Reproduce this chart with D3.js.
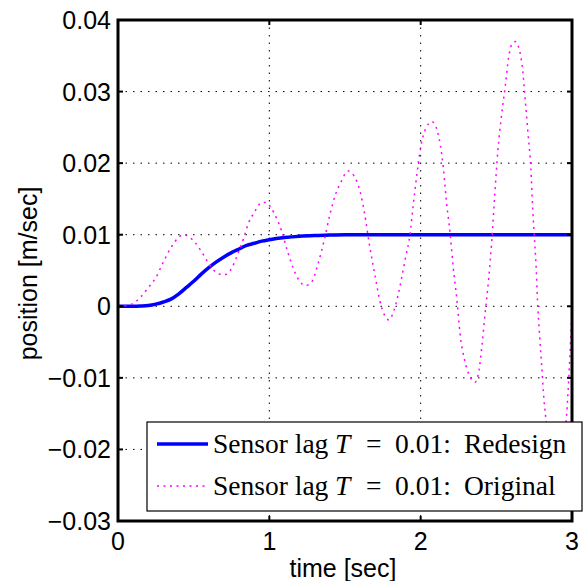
<!DOCTYPE html>
<html>
<head>
<meta charset="utf-8">
<script src="https://cdn.jsdelivr.net/npm/d3@7"></script>
<style>
  body { margin: 0; background: #fff; }
  svg { display: block; }
</style>
</head>
<body>
<svg id="chart"></svg>
<script>
// values
const redesignTime = [0, 0.1, 0.15, 0.2, 0.25, 0.3, 0.35, 0.4, 0.45, 0.5, 0.55, 0.6, 0.65, 0.7, 0.75,
    0.8, 0.85, 0.9, 0.95, 1.0, 1.1, 1.2, 1.3, 1.4, 1.5, 2.0, 2.5, 3.0];
const redesignPos = [0, 0, 0.00003, 0.0001, 0.0003, 0.0006, 0.001, 0.0017, 0.0026, 0.0035, 0.0045,
    0.0054, 0.0062, 0.0069, 0.0075, 0.008, 0.0085, 0.0088, 0.0091, 0.0093, 0.0096, 0.0098, 0.0099,
    0.00995, 0.01, 0.01, 0.01, 0.01];

const originalTime = [0, 0.05, 0.1, 0.15, 0.2, 0.25, 0.3, 0.35, 0.4, 0.43, 0.47, 0.51, 0.55, 0.59, 0.63,
    0.67, 0.7, 0.73, 0.76, 0.8, 0.83, 0.86, 0.9, 0.95, 0.98, 1.01, 1.05, 1.08, 1.12, 1.16, 1.2, 1.24,
    1.28, 1.32, 1.36, 1.4, 1.44, 1.47, 1.52, 1.56, 1.6, 1.63, 1.66, 1.7, 1.73, 1.76, 1.79, 1.82, 1.85,
    1.87, 1.9, 1.93, 1.95, 1.975, 2.0, 2.04, 2.075, 2.11, 2.15, 2.17, 2.195, 2.215, 2.24, 2.26, 2.29,
    2.325, 2.36, 2.385, 2.405, 2.425, 2.45, 2.47, 2.49, 2.51, 2.535, 2.56, 2.58, 2.6, 2.625, 2.655,
    2.675, 2.69, 2.71, 2.728, 2.74, 2.75, 2.763, 2.772, 2.785, 2.8, 2.815, 2.83, 2.85, 2.87, 2.89,
    2.91, 2.93, 2.95, 2.965, 2.98, 3.0];
const originalPos = [0, 0.0001, 0.0004, 0.0013, 0.0026, 0.004, 0.0062, 0.0082, 0.0096, 0.01, 0.0097,
    0.0089, 0.0077, 0.0063, 0.0051, 0.0045, 0.0044, 0.0047, 0.0057, 0.0078, 0.0095, 0.0115, 0.0131,
    0.0145, 0.0145, 0.0138, 0.0122, 0.0106, 0.0077, 0.0052, 0.0035, 0.0029, 0.0034, 0.0058, 0.009,
    0.0128, 0.0158, 0.0172, 0.0189, 0.0182, 0.016, 0.0129, 0.0088, 0.0041, 0.0008, -0.0012, -0.0019,
    -0.0008, 0.0015, 0.0035, 0.0068, 0.0101, 0.014, 0.0184, 0.0222, 0.0251, 0.0258, 0.0245, 0.0193,
    0.0147, 0.0101, 0.0055, 0.0008, -0.0038, -0.0075, -0.0098, -0.0106, -0.009, -0.0055, -0.0012,
    0.004, 0.0092, 0.0157, 0.0217, 0.0268, 0.0309, 0.0346, 0.0365, 0.037, 0.0356, 0.0328, 0.0291,
    0.024, 0.0193, 0.0138, 0.0101, 0.0055, 0.0008, -0.0038, -0.0084, -0.0131, -0.0162, -0.021,
    -0.0255, -0.0278, -0.0272, -0.0235, -0.0188, -0.015, -0.0095, -0.0006];

const xTicks = [0, 1, 2, 3];
const yTicks = [-0.03, -0.02, -0.01, 0, 0.01, 0.02, 0.03, 0.04];
const legendNames = ["Redesign", "Original"];

const width = 584, height = 581;
const margin = { top: 20, right: 12, bottom: 60, left: 118 };

const svg = d3.select("#chart").attr("width", width).attr("height", height);

const x = d3.scaleLinear().domain([0, 3]).range([margin.left, width - margin.right]);
const y = d3.scaleLinear().domain([-0.03, 0.04]).range([height - margin.bottom, margin.top]);
const fmt = d3.format(".2~f");

svg.append("defs").append("clipPath").attr("id", "plotclip")
    .append("rect")
    .attr("x", x(0)).attr("y", y(0.04))
    .attr("width", x(3) - x(0)).attr("height", y(-0.03) - y(0.04));

// dotted grid
const grid = svg.append("g")
    .attr("stroke", "#000").attr("stroke-width", 1).attr("stroke-dasharray", "1.5,6");
grid.selectAll(".gx").data(xTicks.slice(1, -1)).enter().append("line")
    .attr("x1", d => x(d)).attr("x2", d => x(d))
    .attr("y1", y(0.04)).attr("y2", y(-0.03));
grid.selectAll(".gy").data(yTicks.slice(1, -1)).enter().append("line")
    .attr("x1", x(0)).attr("x2", x(3))
    .attr("y1", d => y(d)).attr("y2", d => y(d));

// curves
const redesign = redesignTime.map((t, i) => [t, redesignPos[i]]);
const original = originalTime.map((t, i) => [t, originalPos[i]]);
const line = d3.line().x(d => x(d[0])).y(d => y(d[1])).curve(d3.curveMonotoneX);

const curves = svg.append("g").attr("clip-path", "url(#plotclip)");
curves.append("path").datum(redesign)
    .attr("d", line).attr("fill", "none")
    .attr("stroke", "#0000ff").attr("stroke-width", 3.5);
curves.append("path").datum(original)
    .attr("d", line).attr("fill", "none")
    .attr("stroke", "#ff00ff").attr("stroke-width", 1.5)
    .attr("stroke-dasharray", "2,4.5");

// ticks on all four sides, pointing inward
const ticks = svg.append("g").attr("stroke", "#000").attr("stroke-width", 2);
xTicks.forEach(d => {
    ticks.append("line").attr("x1", x(d)).attr("x2", x(d)).attr("y1", y(-0.03)).attr("y2", y(-0.03) - 5);
    ticks.append("line").attr("x1", x(d)).attr("x2", x(d)).attr("y1", y(0.04)).attr("y2", y(0.04) + 5);
});
yTicks.forEach(d => {
    ticks.append("line").attr("x1", x(0)).attr("x2", x(0) + 5).attr("y1", y(d)).attr("y2", y(d));
    ticks.append("line").attr("x1", x(3)).attr("x2", x(3) - 5).attr("y1", y(d)).attr("y2", y(d));
});

// frame
svg.append("rect")
    .attr("x", x(0)).attr("y", y(0.04))
    .attr("width", x(3) - x(0)).attr("height", y(-0.03) - y(0.04))
    .attr("fill", "none").attr("stroke", "#000").attr("stroke-width", 3);

// tick labels
const labelFont = "'Liberation Sans', Arial, sans-serif";
svg.selectAll(".xl").data(xTicks).enter().append("text")
    .attr("x", d => x(d)).attr("y", height - 31)
    .attr("text-anchor", "middle")
    .attr("font-family", labelFont).attr("font-size", 25)
    .text(d => d);
svg.selectAll(".yl").data(yTicks).enter().append("text")
    .attr("x", x(0) - 7).attr("y", d => y(d) + 9)
    .attr("text-anchor", "end")
    .attr("font-family", labelFont).attr("font-size", 25)
    .text(d => fmt(d));

// axis titles
svg.append("text")
    .attr("x", (x(0) + x(3)) / 2 - 2).attr("y", height - 4)
    .attr("text-anchor", "middle")
    .attr("font-family", labelFont).attr("font-size", 25)
    .text("time [sec]");
svg.append("text")
    .attr("transform", `translate(37,${(y(0.04) + y(-0.03)) / 2 + 3}) rotate(-90)`)
    .attr("text-anchor", "middle")
    .attr("font-family", labelFont).attr("font-size", 25)
    .text("position [m/sec]");

// legend
const lg = svg.append("g").attr("transform", "translate(147,422)");
lg.append("rect").attr("width", 435).attr("height", 89)
    .attr("fill", "#fff").attr("stroke", "#000").attr("stroke-width", 1.2);
const rows = [
    { name: legendNames[0], color: "#0000ff", w: 3.5, dash: null },
    { name: legendNames[1], color: "#ff00ff", w: 1.5, dash: "2,4.5" }
];
rows.forEach((r, i) => {
    const cy = 22 + i * 42;
    lg.append("line").attr("x1", 10).attr("x2", 61).attr("y1", cy).attr("y2", cy)
        .attr("stroke", r.color).attr("stroke-width", r.w)
        .attr("stroke-dasharray", r.dash);
    const t = lg.append("text").attr("y", cy + 9)
        .attr("font-family", "'Liberation Serif', 'Times New Roman', serif")
        .attr("font-size", 27.5);
    t.append("tspan").attr("x", 66).text("Sensor lag");
    t.append("tspan").attr("x", 188).attr("font-style", "italic").text("T");
    t.append("tspan").attr("x", 219).text("=");
    t.append("tspan").attr("x", 248).text("0.01:");
    t.append("tspan").attr("x", 317).text(r.name);
});
</script>
</body>
</html>
